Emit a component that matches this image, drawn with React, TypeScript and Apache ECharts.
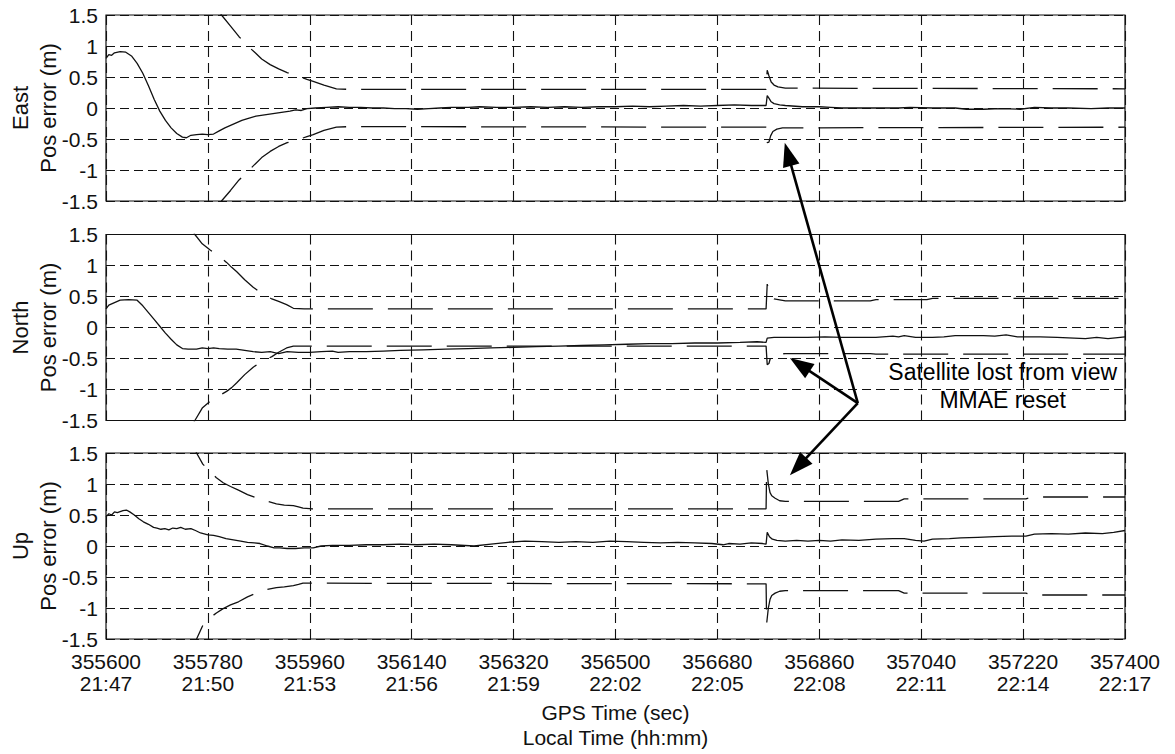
import React, { useEffect, useRef } from "react";
import * as echarts from "echarts";

const GPS_START = 355600;
const GPS_END = 357400;
const TICK_STEP = 180;
const gpsTickLabels = ["355600", "355780", "355960", "356140", "356320", "356500", "356680", "356860", "357040", "357220", "357400"];
const localTickLabels = ["21:47", "21:50", "21:53", "21:56", "21:59", "22:02", "22:05", "22:08", "22:11", "22:14", "22:17"];
const panelNames = ["East", "North", "Up"];
const yAxisName = "Pos error (m)";
const xAxisTitle = "GPS Time (sec)\nLocal Time (hh:mm)";
const annotationText = "Satellite lost from view\nMMAE reset";

// [GPS time (s), error (m)]
const eastError: [number, number][] = [
  [355600, 0.8], [355605, 0.86], [355610, 0.85], [355615, 0.89], [355625, 0.91], [355635, 0.9], [355645, 0.84],
  [355655, 0.72], [355665, 0.56], [355675, 0.36], [355685, 0.14], [355695, -0.05], [355705, -0.2], [355715, -0.32],
  [355725, -0.41], [355735, -0.47], [355742, -0.48], [355750, -0.44], [355760, -0.43], [355770, -0.42], [355780, -0.43],
  [355790, -0.42], [355800, -0.37], [355810, -0.32], [355820, -0.28], [355830, -0.24], [355840, -0.2], [355850, -0.17],
  [355865, -0.13], [355880, -0.11], [355895, -0.09], [355910, -0.07], [355925, -0.05], [355935, -0.03], [355945, -0.04],
  [355955, -0.01], [355970, 0.0], [355990, 0.01], [356010, 0.02], [356030, 0.01], [356050, 0.01], [356070, 0.0],
  [356090, 0.0], [356110, -0.01], [356130, -0.01], [356150, -0.02], [356170, -0.01], [356190, 0.0], [356210, 0.01],
  [356240, 0.01], [356260, 0.02], [356290, 0.01], [356320, 0.01], [356350, 0.02], [356380, 0.01], [356410, 0.02],
  [356440, 0.01], [356470, 0.02], [356500, 0.02], [356530, 0.03], [356560, 0.02], [356590, 0.03], [356620, 0.04],
  [356650, 0.03], [356680, 0.04], [356710, 0.05], [356740, 0.04], [356766, 0.04], [356768, 0.2], [356771, 0.16],
  [356775, 0.1], [356780, 0.07], [356790, 0.05], [356800, 0.04], [356830, 0.02], [356860, 0.02], [356880, 0.01],
  [356900, 0.0], [356930, 0.0], [356960, 0.0], [357000, 0.0], [357020, 0.01], [357060, 0.0], [357100, 0.0],
  [357120, -0.02], [357150, -0.02], [357180, -0.01], [357215, -0.02], [357240, 0.01], [357270, 0.0], [357300, 0.0],
  [357340, -0.01], [357370, 0.0], [357400, 0.0],
];
const eastUpper: [number, number][] = [
  [355790, 1.7], [355804, 1.5], [355820, 1.32], [355835, 1.15], [355854, 0.97], [355865, 0.88], [355875, 0.79],
  [355890, 0.7], [355905, 0.63], [355920, 0.57], [355940, 0.51], [355955, 0.46], [355966, 0.43], [355985, 0.37],
  [356007, 0.31], [356030, 0.3], [356766, 0.3], [356768, 0.61], [356771, 0.52], [356775, 0.42], [356780, 0.37],
  [356787, 0.34], [356800, 0.32], [357400, 0.31],
];
const eastLower: [number, number][] = [
  [355790, -1.7], [355804, -1.5], [355820, -1.33], [355835, -1.16], [355854, -0.99], [355865, -0.89], [355875, -0.8],
  [355890, -0.7], [355905, -0.62], [355920, -0.56], [355940, -0.51], [355955, -0.46], [355966, -0.43], [355985, -0.36],
  [356007, -0.31], [356030, -0.3], [356766, -0.31], [356768, -0.56], [356771, -0.55], [356774, -0.45], [356778, -0.38],
  [356785, -0.34], [356795, -0.32], [357400, -0.31],
];

const northError: [number, number][] = [
  [355600, 0.3], [355605, 0.36], [355615, 0.4], [355625, 0.44], [355640, 0.45], [355655, 0.44], [355665, 0.35],
  [355675, 0.24], [355685, 0.13], [355695, 0.02], [355705, -0.09], [355715, -0.19], [355725, -0.28], [355735, -0.34],
  [355745, -0.35], [355760, -0.35], [355770, -0.33], [355780, -0.34], [355790, -0.33], [355800, -0.34], [355815, -0.35],
  [355830, -0.35], [355845, -0.37], [355860, -0.39], [355875, -0.4], [355890, -0.39], [355905, -0.42], [355920, -0.39],
  [355940, -0.4], [355960, -0.4], [355980, -0.39], [356000, -0.38], [356010, -0.4], [356030, -0.39], [356060, -0.39],
  [356090, -0.38], [356120, -0.37], [356160, -0.36], [356200, -0.35], [356240, -0.34], [356280, -0.33], [356320, -0.32],
  [356360, -0.31], [356400, -0.3], [356440, -0.29], [356480, -0.28], [356520, -0.27], [356560, -0.26], [356600, -0.26],
  [356640, -0.25], [356680, -0.25], [356720, -0.24], [356750, -0.23], [356766, -0.24], [356768, -0.17], [356780, -0.16],
  [356810, -0.16], [356840, -0.16], [356870, -0.15], [356900, -0.16], [356960, -0.16], [356990, -0.14], [357000, -0.15],
  [357010, -0.13], [357030, -0.16], [357060, -0.16], [357080, -0.15], [357100, -0.13], [357150, -0.13], [357170, -0.14],
  [357190, -0.12], [357210, -0.15], [357250, -0.15], [357280, -0.16], [357330, -0.18], [357350, -0.16], [357370, -0.18],
  [357400, -0.15],
];
const northUpper: [number, number][] = [
  [355740, 1.8], [355757, 1.5], [355770, 1.35], [355784, 1.25], [355800, 1.15], [355813, 1.05], [355822, 0.97],
  [355831, 0.9], [355845, 0.77], [355860, 0.65], [355875, 0.55], [355893, 0.46], [355905, 0.42], [355919, 0.37],
  [355931, 0.31], [355950, 0.3], [356766, 0.3], [356768, 0.7], [356771, 0.6], [356774, 0.5], [356780, 0.46],
  [356800, 0.43], [356950, 0.43], [356960, 0.45], [357050, 0.45], [357060, 0.47], [357400, 0.47],
];
const northLower: [number, number][] = [
  [355740, -1.8], [355757, -1.5], [355770, -1.3], [355784, -1.19], [355800, -1.1], [355813, -1.03], [355822, -0.97],
  [355831, -0.89], [355845, -0.76], [355860, -0.64], [355875, -0.55], [355893, -0.47], [355905, -0.4], [355919, -0.33],
  [355931, -0.3], [355950, -0.3], [356766, -0.3], [356768, -0.6], [356771, -0.58], [356774, -0.48], [356780, -0.44],
  [356800, -0.42], [356950, -0.42], [356960, -0.43], [357400, -0.43],
];

const upError: [number, number][] = [
  [355600, 0.47], [355605, 0.52], [355610, 0.5], [355615, 0.55], [355620, 0.54], [355630, 0.57], [355636, 0.58],
  [355642, 0.55], [355650, 0.5], [355658, 0.44], [355666, 0.39], [355675, 0.35], [355684, 0.3], [355690, 0.29],
  [355697, 0.27], [355704, 0.28], [355711, 0.26], [355718, 0.29], [355725, 0.28], [355732, 0.3], [355740, 0.27],
  [355750, 0.28], [355758, 0.25], [355767, 0.21], [355780, 0.18], [355790, 0.17], [355800, 0.15], [355812, 0.12],
  [355825, 0.1], [355838, 0.08], [355850, 0.06], [355862, 0.05], [355872, 0.04], [355885, 0.0], [355897, -0.03],
  [355907, -0.03], [355920, -0.04], [355935, -0.04], [355950, -0.03], [355966, -0.03], [355980, 0.0], [356000, 0.01],
  [356030, 0.01], [356060, 0.02], [356090, 0.02], [356119, 0.03], [356150, 0.02], [356180, 0.03], [356210, 0.02],
  [356250, 0.0], [356280, 0.03], [356310, 0.06], [356340, 0.08], [356370, 0.07], [356400, 0.06], [356430, 0.07],
  [356460, 0.06], [356490, 0.08], [356520, 0.07], [356550, 0.06], [356580, 0.05], [356610, 0.06], [356640, 0.05],
  [356670, 0.04], [356690, 0.02], [356700, 0.04], [356720, 0.03], [356740, 0.05], [356760, 0.04], [356766, 0.03],
  [356768, 0.22], [356772, 0.15], [356777, 0.11], [356785, 0.09], [356800, 0.08], [356820, 0.09], [356840, 0.08],
  [356860, 0.09], [356880, 0.08], [356900, 0.1], [356930, 0.09], [356960, 0.11], [356990, 0.12], [357010, 0.12],
  [357030, 0.09], [357045, 0.08], [357060, 0.11], [357090, 0.12], [357110, 0.13], [357140, 0.14], [357170, 0.15],
  [357200, 0.16], [357225, 0.16], [357240, 0.19], [357270, 0.2], [357300, 0.19], [357330, 0.21], [357360, 0.2],
  [357380, 0.22], [357400, 0.25],
];
const upUpper: [number, number][] = [
  [355740, 1.95], [355760, 1.5], [355771, 1.32], [355782, 1.22], [355795, 1.1], [355807, 1.02], [355820, 0.96],
  [355834, 0.9], [355850, 0.83], [355868, 0.77], [355885, 0.72], [355901, 0.68], [355915, 0.66], [355931, 0.65],
  [355940, 0.63], [355948, 0.61], [355965, 0.6], [356766, 0.6], [356767, 1.25], [356770, 1.0], [356773, 0.86],
  [356776, 0.81], [356782, 0.77], [356790, 0.73], [356800, 0.72], [357000, 0.72], [357010, 0.76], [357225, 0.76],
  [357235, 0.79], [357400, 0.79],
];
const upLower: [number, number][] = [
  [355740, -1.95], [355760, -1.5], [355771, -1.28], [355782, -1.17], [355795, -1.08], [355807, -1.01], [355820, -0.95],
  [355834, -0.9], [355850, -0.82], [355868, -0.75], [355885, -0.7], [355901, -0.67], [355915, -0.66], [355931, -0.64],
  [355940, -0.62], [355948, -0.6], [355965, -0.6], [356766, -0.61], [356767, -1.25], [356770, -1.0], [356773, -0.86],
  [356776, -0.8], [356782, -0.76], [356790, -0.73], [356800, -0.72], [357000, -0.72], [357010, -0.76], [357225, -0.76],
  [357235, -0.79], [357400, -0.79],
];

// annotation anchors in data coordinates: [panel index, GPS time, value]
const arrowTips: [number, number, number][] = [
  [0, 356799, -0.56],
  [1, 356808, -0.49],
  [2, 356808, 1.14],
];
const arrowOrigin: [number, number, number] = [1, 356928, -1.22];
const annotationAnchor: [number, number, number] = [1, 357184, -0.94];

const panelData = [
  [eastError, eastUpper, eastLower],
  [northError, northUpper, northLower],
  [upError, upUpper, upLower],
];

const FONT = "'Liberation Sans', Arial, Helvetica, sans-serif";
const INK = "#111";

export default function App() {
  const ref = useRef<HTMLDivElement>(null);
  useEffect(() => {
    if (!ref.current) return;
    const chart = echarts.init(ref.current, null, { renderer: "svg" });
    const tops = [15, 234.5, 453];
    const toX = (pts: [number, number][]) => pts.map(([t, v]) => [t - GPS_START, v]);

    const grid = tops.map((top) => ({
      left: 106,
      width: 1019,
      top,
      height: 186,
      show: true,
      borderColor: INK,
      borderWidth: 1.2,
      backgroundColor: "transparent",
      containLabel: false,
      outerBoundsMode: "none",
    }));

    const xAxis = tops.map((_, i) => ({
      type: "value",
      gridIndex: i,
      min: 0,
      max: GPS_END - GPS_START,
      interval: TICK_STEP,
      axisLine: { show: false },
      axisTick: { show: false },
      axisLabel: {
        show: i === 2,
        margin: 11,
        fontFamily: FONT,
        fontSize: 21,
        lineHeight: 22,
        color: INK,
        formatter: (v: number) => {
          const k = Math.round(v / TICK_STEP);
          return `${gpsTickLabels[k]}\n${localTickLabels[k]}`;
        },
      },
      splitLine: { show: true, lineStyle: { color: INK, width: 1.1, type: [10, 6] } },
      name: i === 2 ? xAxisTitle : "",
      nameLocation: "middle",
      nameGap: 61,
      nameMoveOverlap: false,
      nameTextStyle: { fontFamily: FONT, fontSize: 21, lineHeight: 25, color: INK },
    }));

    const yAxis = tops.map((_, i) => ({
      type: "value",
      gridIndex: i,
      min: -1.5,
      max: 1.5,
      interval: 0.5,
      axisLine: { show: false },
      axisTick: { show: false },
      axisLabel: { margin: 8, fontFamily: FONT, fontSize: 21, color: INK },
      splitLine: { show: true, lineStyle: { color: INK, width: 1.1, type: [9, 5] } },
      name: `${panelNames[i]}\n${yAxisName}`,
      nameLocation: "middle",
      nameRotate: 90,
      nameGap: 44,
      nameMoveOverlap: false,
      nameTextStyle: { fontFamily: FONT, fontSize: 22, lineHeight: 28, color: INK },
    }));

    const series: any[] = [];
    panelData.forEach((group, i) => {
      group.forEach((pts, j) => {
        series.push({
          type: "line",
          xAxisIndex: i,
          yAxisIndex: i,
          data: toX(pts),
          showSymbol: false,
          symbol: "none",
          clip: true,
          lineStyle: { color: INK, width: 1.3, type: j === 0 ? "solid" : [45, 15] },
          z: 3,
        });
      });
    });

    chart.setOption({
      animation: false,
      backgroundColor: "#fff",
      grid,
      xAxis,
      yAxis,
      series,
    });

    const px = (a: [number, number, number]) =>
      chart.convertToPixel({ xAxisIndex: a[0], yAxisIndex: a[0] }, [a[1] - GPS_START, a[2]]) as number[];
    const o = px(arrowOrigin);
    const graphics: any[] = [];
    arrowTips.forEach((tip) => {
      const p = px(tip);
      const dx = p[0] - o[0];
      const dy = p[1] - o[1];
      const len = Math.sqrt(dx * dx + dy * dy);
      const ux = dx / len;
      const uy = dy / len;
      const L = 24;
      const W = 8.5;
      const bx = p[0] - ux * L;
      const by = p[1] - uy * L;
      graphics.push({
        type: "line",
        shape: { x1: o[0], y1: o[1], x2: bx + ux * 2, y2: by + uy * 2 },
        style: { stroke: "#000", lineWidth: 2.6 },
        z: 100,
      });
      graphics.push({
        type: "polygon",
        shape: {
          points: [
            [p[0], p[1]],
            [bx - uy * W, by + ux * W],
            [bx + uy * W, by - ux * W],
          ],
        },
        style: { fill: "#000" },
        z: 100,
      });
    });
    const t = px(annotationAnchor);
    graphics.push({
      type: "text",
      x: t[0],
      y: t[1],
      style: {
        text: annotationText,
        fontFamily: FONT,
        fontSize: 23,
        lineHeight: 28,
        fill: "#000",
        align: "center",
        verticalAlign: "middle",
      },
      z: 100,
    });
    chart.setOption({ graphic: graphics });

    return () => chart.dispose();
  }, []);
  return <div ref={ref} style={{ position: "fixed", left: 0, top: 0, width: 1175, height: 754 }} />;
}
